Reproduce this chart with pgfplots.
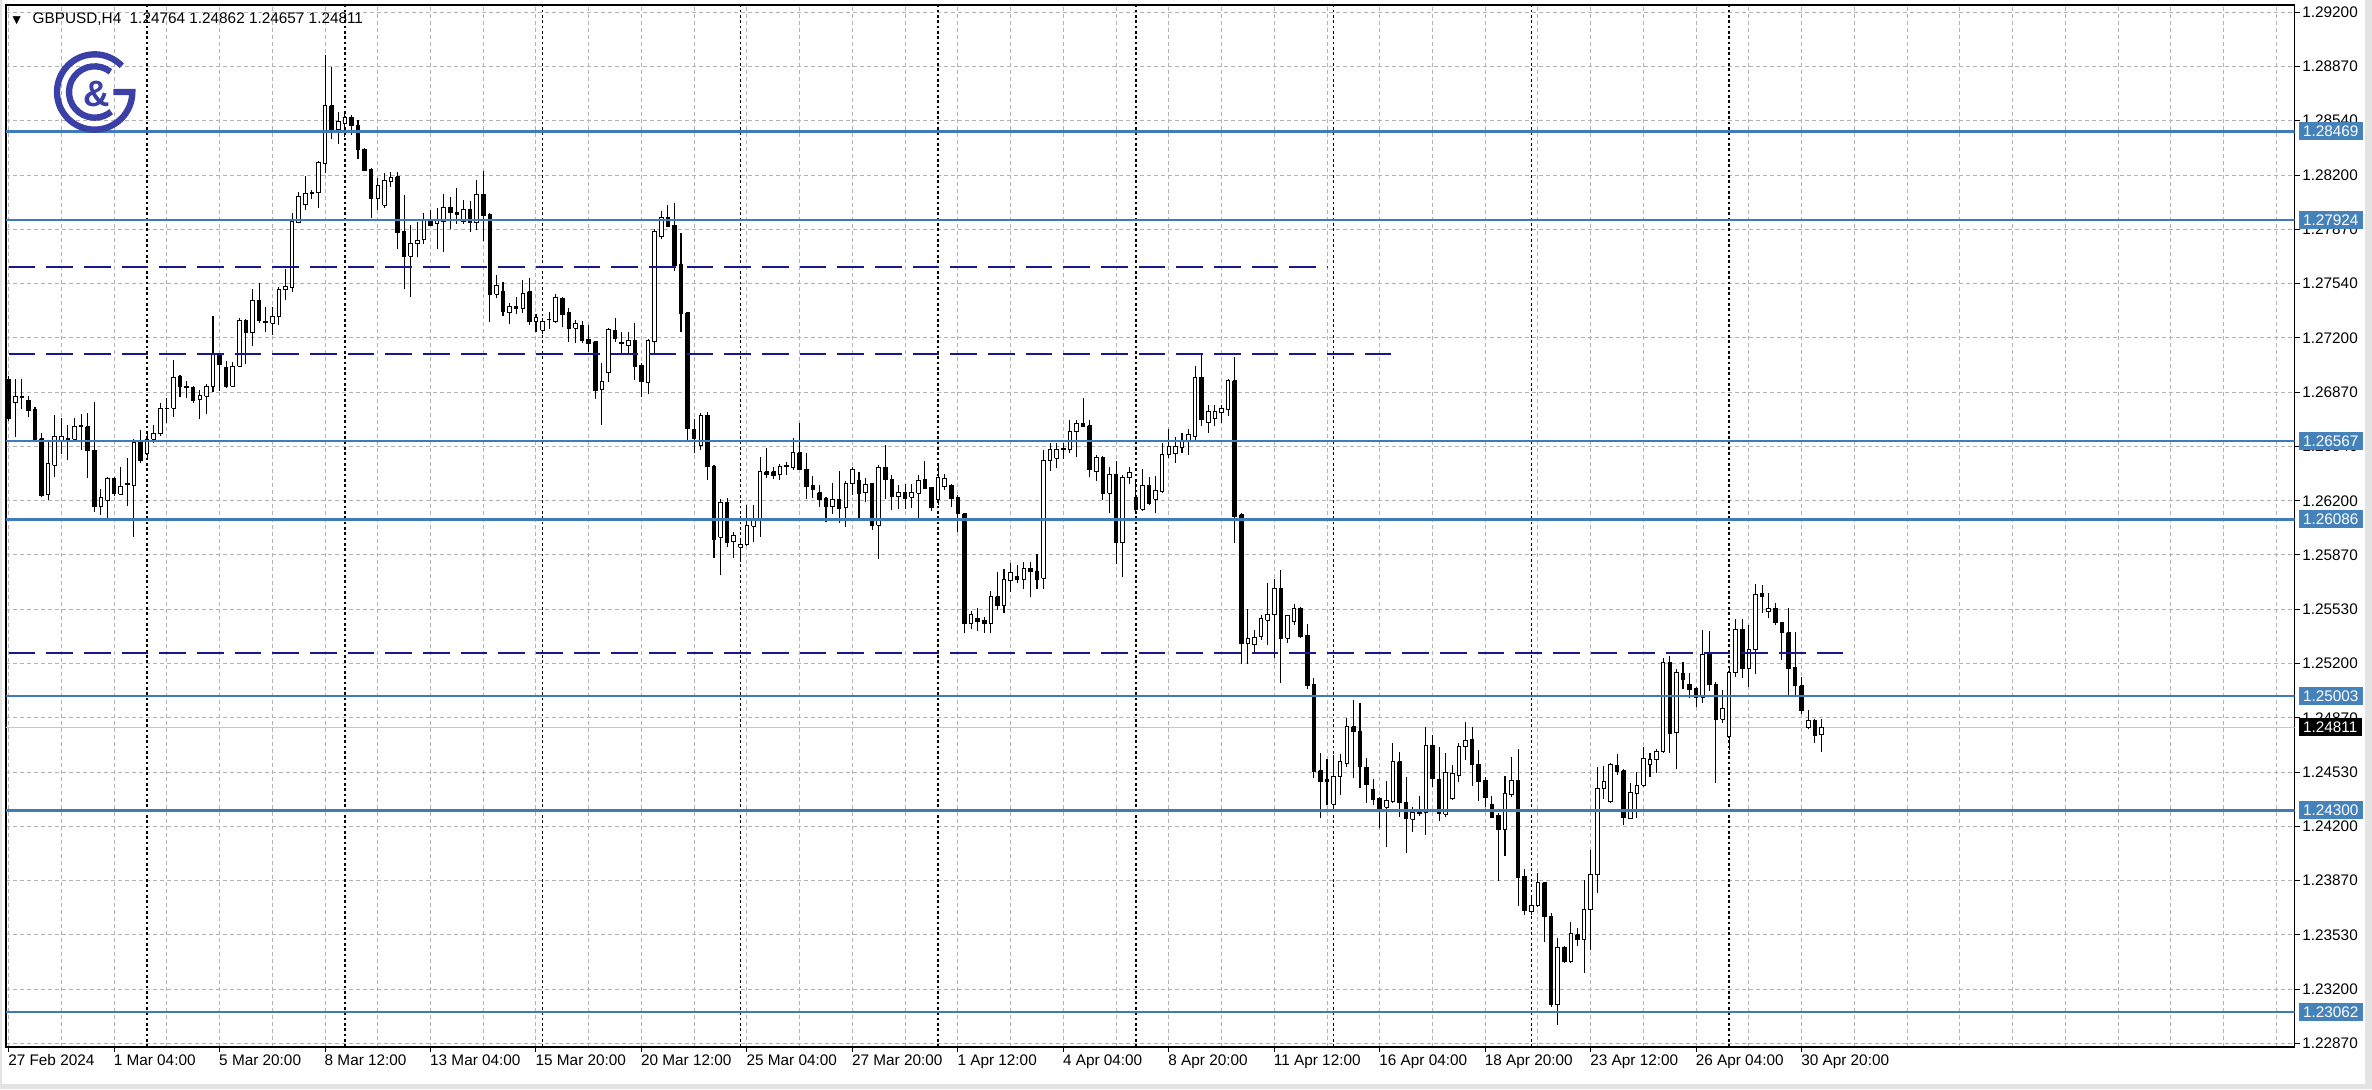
\documentclass[border=0pt]{standalone}
\usepackage{fontspec}
\setmainfont{Liberation Sans}
\newfontfamily\dejavu{DejaVu Sans}
\usepackage{pgfplots}
\pgfplotsset{compat=1.18}
\usepackage{pgfplotstable}
\definecolor{lineblue}{RGB}{62,123,184}
\definecolor{navydash}{RGB}{24,24,140}
\definecolor{boxblue}{RGB}{70,130,186}
\definecolor{logoblue}{RGB}{58,64,165}
\definecolor{gridgray}{RGB}{178,178,178}
\newcommand{\lblfont}{\fontsize{4.6}{5}\selectfont}

\pgfplotstableread{
i O H L C
0 1.26946 1.26966 1.26692 1.26706
1 1.26803 1.26946 1.26594 1.26843
2 1.26843 1.26946 1.26762 1.26835
3 1.26819 1.26843 1.26712 1.26753
4 1.26762 1.26778 1.26563 1.26573
5 1.26583 1.26614 1.26225 1.26236
6 1.26242 1.26569 1.26205 1.26430
7 1.26420 1.26727 1.26348 1.26594
8 1.26569 1.26706 1.26491 1.26594
9 1.26579 1.26665 1.26451 1.26584
10 1.26577 1.26706 1.26563 1.26655
11 1.26655 1.26733 1.26512 1.26665
12 1.26655 1.26737 1.26338 1.26512
13 1.26512 1.26809 1.26133 1.26164
14 1.26168 1.26271 1.26113 1.26221
15 1.26205 1.26348 1.26093 1.26336
16 1.26336 1.26348 1.26230 1.26246
17 1.26242 1.26406 1.26236 1.26291
18 1.26301 1.26461 1.26168 1.26305
19 1.26297 1.26577 1.25980 1.26559
20 1.26563 1.26635 1.26434 1.26446
21 1.26488 1.26624 1.26451 1.26577
22 1.26579 1.26665 1.26553 1.26614
23 1.26614 1.26798 1.26598 1.26768
24 1.26766 1.26829 1.26676 1.26770
25 1.26768 1.27064 1.26717 1.26958
26 1.26962 1.26972 1.26839 1.26901
27 1.26905 1.26938 1.26829 1.26897
28 1.26897 1.26905 1.26803 1.26819
29 1.26823 1.26880 1.26700 1.26847
30 1.26843 1.26917 1.26733 1.26905
31 1.26905 1.27334 1.26870 1.27099
32 1.27099 1.27109 1.26876 1.27040
33 1.27019 1.27060 1.26890 1.26905
34 1.26905 1.27054 1.26901 1.27028
35 1.27028 1.27320 1.27023 1.27306
36 1.27306 1.27314 1.27040 1.27232
37 1.27232 1.27500 1.27150 1.27433
38 1.27433 1.27535 1.27290 1.27310
39 1.27304 1.27392 1.27239 1.27296
40 1.27290 1.27392 1.27218 1.27335
41 1.27331 1.27515 1.27280 1.27499
42 1.27495 1.27621 1.27433 1.27515
43 1.27511 1.27969 1.27480 1.27914
44 1.27908 1.28098 1.27904 1.28071
45 1.28022 1.28194 1.27986 1.28084
46 1.28088 1.28108 1.28051 1.28096
47 1.28092 1.28288 1.27996 1.28276
48 1.28272 1.28937 1.28211 1.28626
49 1.28626 1.28865 1.28419 1.28481
50 1.28481 1.28589 1.28391 1.28528
51 1.28518 1.28595 1.28436 1.28554
52 1.28554 1.28569 1.28446 1.28507
53 1.28507 1.28538 1.28297 1.28354
54 1.28358 1.28364 1.28227 1.28231
55 1.28235 1.28241 1.27934 1.28057
56 1.28057 1.28180 1.27986 1.28133
57 1.28016 1.28215 1.27996 1.28166
58 1.28159 1.28221 1.28129 1.28186
59 1.28190 1.28221 1.27744 1.27846
60 1.27853 1.28078 1.27499 1.27703
61 1.27703 1.27893 1.27450 1.27781
62 1.27777 1.27914 1.27695 1.27801
63 1.27806 1.27969 1.27777 1.27924
64 1.27924 1.27986 1.27887 1.27893
65 1.27900 1.27996 1.27744 1.27924
66 1.27914 1.28084 1.27730 1.28002
67 1.28002 1.28067 1.27867 1.27969
68 1.27969 1.28119 1.27900 1.27961
69 1.27914 1.28047 1.27900 1.27990
70 1.27990 1.28043 1.27853 1.27908
71 1.27908 1.28170 1.27863 1.28078
72 1.28078 1.28227 1.27797 1.27949
73 1.27955 1.27965 1.27300 1.27470
74 1.27470 1.27587 1.27443 1.27525
75 1.27484 1.27546 1.27335 1.27362
76 1.27355 1.27417 1.27286 1.27392
77 1.27392 1.27450 1.27347 1.27384
78 1.27382 1.27556 1.27351 1.27474
79 1.27484 1.27566 1.27279 1.27300
80 1.27300 1.27347 1.27238 1.27324
81 1.27249 1.27320 1.27224 1.27300
82 1.27316 1.27361 1.27253 1.27312
83 1.27300 1.27470 1.27290 1.27449
84 1.27443 1.27453 1.27265 1.27347
85 1.27355 1.27382 1.27177 1.27259
86 1.27261 1.27310 1.27171 1.27286
87 1.27279 1.27306 1.27171 1.27187
88 1.27191 1.27279 1.27116 1.27167
89 1.27177 1.27183 1.26823 1.26880
90 1.26885 1.27044 1.26666 1.26932
91 1.26987 1.27259 1.26932 1.27253
92 1.27249 1.27320 1.27177 1.27198
93 1.27175 1.27238 1.27101 1.27167
94 1.27157 1.27238 1.27105 1.27183
95 1.27183 1.27294 1.26942 1.27028
96 1.27034 1.27048 1.26835 1.26932
97 1.26925 1.27191 1.26856 1.27183
98 1.27177 1.27867 1.27110 1.27852
99 1.27826 1.27981 1.27805 1.27940
100 1.27940 1.28016 1.27879 1.27887
101 1.27893 1.28030 1.27613 1.27642
102 1.27654 1.27842 1.27238 1.27351
103 1.27355 1.27361 1.26574 1.26645
104 1.26639 1.26700 1.26492 1.26584
105 1.26543 1.26737 1.26512 1.26727
106 1.26727 1.26747 1.26328 1.26410
107 1.26414 1.26420 1.25847 1.25964
108 1.25976 1.26209 1.25745 1.26189
109 1.26189 1.26215 1.25919 1.25943
110 1.25950 1.26011 1.25847 1.25990
111 1.25915 1.25970 1.25827 1.25935
112 1.25935 1.26175 1.25923 1.26052
113 1.26046 1.26175 1.25950 1.26078
114 1.26078 1.26471 1.25980 1.26379
115 1.26379 1.26522 1.26338 1.26365
116 1.26379 1.26410 1.26332 1.26353
117 1.26365 1.26426 1.26328 1.26414
118 1.26412 1.26441 1.26359 1.26417
119 1.26406 1.26584 1.26390 1.26496
120 1.26496 1.26680 1.26390 1.26394
121 1.26394 1.26496 1.26210 1.26288
122 1.26292 1.26353 1.26216 1.26271
123 1.26251 1.26298 1.26165 1.26210
124 1.26216 1.26222 1.26073 1.26165
125 1.26165 1.26312 1.26120 1.26210
126 1.26210 1.26384 1.26063 1.26155
127 1.26161 1.26325 1.26042 1.26304
128 1.26304 1.26406 1.26237 1.26394
129 1.26325 1.26380 1.26093 1.26247
130 1.26251 1.26339 1.26196 1.26302
131 1.26304 1.26308 1.26022 1.26052
132 1.26052 1.26421 1.25842 1.26406
133 1.26406 1.26543 1.26210 1.26329
134 1.26333 1.26359 1.26144 1.26226
135 1.26226 1.26298 1.26149 1.26251
136 1.26251 1.26304 1.26149 1.26216
137 1.26222 1.26304 1.26155 1.26251
138 1.26247 1.26359 1.26087 1.26325
139 1.26333 1.26447 1.26271 1.26277
140 1.26284 1.26288 1.26140 1.26161
141 1.26210 1.26415 1.26175 1.26345
142 1.26288 1.26365 1.26267 1.26339
143 1.26292 1.26304 1.26161 1.26216
144 1.26222 1.26237 1.26011 1.26120
145 1.26120 1.26128 1.25387 1.25449
146 1.25449 1.25527 1.25412 1.25500
147 1.25480 1.25541 1.25404 1.25459
148 1.25469 1.25490 1.25391 1.25449
149 1.25445 1.25649 1.25387 1.25612
150 1.25612 1.25766 1.25531 1.25555
151 1.25561 1.25780 1.25510 1.25715
152 1.25711 1.25817 1.25643 1.25760
153 1.25735 1.25807 1.25698 1.25719
154 1.25719 1.25827 1.25657 1.25786
155 1.25786 1.25827 1.25608 1.25766
156 1.25766 1.25874 1.25657 1.25719
157 1.25725 1.26513 1.25658 1.26451
158 1.26451 1.26558 1.26386 1.26513
159 1.26462 1.26558 1.26400 1.26517
160 1.26513 1.26554 1.26456 1.26523
161 1.26513 1.26697 1.26492 1.26625
162 1.26625 1.26697 1.26472 1.26677
163 1.26677 1.26830 1.26652 1.26656
164 1.26660 1.26697 1.26345 1.26390
165 1.26380 1.26482 1.26325 1.26468
166 1.26468 1.26476 1.26206 1.26247
167 1.26247 1.26406 1.26124 1.26365
168 1.26365 1.26447 1.25813 1.25944
169 1.25944 1.26359 1.25731 1.26345
170 1.26345 1.26406 1.26304 1.26374
171 1.26222 1.26333 1.26124 1.26149
172 1.26149 1.26394 1.26140 1.26292
173 1.26292 1.26345 1.26175 1.26185
174 1.26210 1.26353 1.26124 1.26263
175 1.26257 1.26558 1.26251 1.26482
176 1.26482 1.26640 1.26462 1.26537
177 1.26488 1.26595 1.26435 1.26537
178 1.26529 1.26615 1.26496 1.26564
179 1.26564 1.26640 1.26482 1.26605
180 1.26595 1.27028 1.26564 1.26959
181 1.26959 1.27102 1.26660 1.26697
182 1.26681 1.26789 1.26619 1.26748
183 1.26707 1.26789 1.26660 1.26748
184 1.26742 1.26789 1.26681 1.26769
185 1.26762 1.26947 1.26722 1.26938
186 1.26938 1.27086 1.25944 1.26104
187 1.26114 1.26124 1.25199 1.25326
188 1.25326 1.25535 1.25199 1.25357
189 1.25316 1.25408 1.25261 1.25363
190 1.25367 1.25500 1.25347 1.25480
191 1.25469 1.25694 1.25316 1.25500
192 1.25500 1.25719 1.25234 1.25664
193 1.25664 1.25776 1.25080 1.25357
194 1.25357 1.25500 1.25326 1.25494
195 1.25459 1.25568 1.25439 1.25541
196 1.25541 1.25551 1.25357 1.25367
197 1.25371 1.25444 1.25043 1.25070
198 1.25076 1.25111 1.24497 1.24538
199 1.24544 1.24654 1.24251 1.24476
200 1.24487 1.24613 1.24333 1.24478
201 1.24339 1.24640 1.24307 1.24511
202 1.24511 1.24646 1.24395 1.24599
203 1.24589 1.24865 1.24569 1.24814
204 1.24814 1.24978 1.24497 1.24783
205 1.24783 1.24957 1.24436 1.24569
206 1.24564 1.24620 1.24343 1.24462
207 1.24429 1.24491 1.24333 1.24368
208 1.24374 1.24380 1.24190 1.24313
209 1.24319 1.24483 1.24073 1.24360
210 1.24354 1.24716 1.24348 1.24599
211 1.24599 1.24661 1.24262 1.24348
212 1.24348 1.24503 1.24041 1.24251
213 1.24245 1.24319 1.24169 1.24286
214 1.24288 1.24388 1.24266 1.24284
215 1.24286 1.24814 1.24149 1.24701
216 1.24701 1.24763 1.24446 1.24497
217 1.24491 1.24691 1.24237 1.24282
218 1.24278 1.24654 1.24258 1.24532
219 1.24374 1.24579 1.24364 1.24528
220 1.24517 1.24716 1.24476 1.24695
221 1.24691 1.24845 1.24609 1.24732
222 1.24736 1.24814 1.24450 1.24579
223 1.24585 1.24671 1.24360 1.24476
224 1.24483 1.24507 1.24323 1.24380
225 1.24339 1.24388 1.24251 1.24257
226 1.24272 1.24282 1.23869 1.24184
227 1.24184 1.24511 1.24020 1.24401
228 1.24395 1.24630 1.24384 1.24483
229 1.24483 1.24675 1.23713 1.23889
230 1.23897 1.23938 1.23658 1.23685
231 1.23679 1.23767 1.23658 1.23719
232 1.23719 1.23914 1.23709 1.23857
233 1.23857 1.23863 1.23494 1.23652
234 1.23652 1.23668 1.23095 1.23106
235 1.23106 1.23520 1.22983 1.23460
236 1.23460 1.23468 1.23366 1.23372
237 1.23372 1.23618 1.23366 1.23542
238 1.23536 1.23577 1.23468 1.23507
239 1.23507 1.23873 1.23300 1.23689
240 1.23689 1.24057 1.23444 1.23904
241 1.23904 1.24569 1.23796 1.24436
242 1.24436 1.24573 1.24368 1.24477
243 1.24354 1.24593 1.24344 1.24585
244 1.24573 1.24647 1.24518 1.24538
245 1.24544 1.24553 1.24211 1.24258
246 1.24252 1.24467 1.24246 1.24409
247 1.24405 1.24538 1.24252 1.24456
248 1.24456 1.24692 1.24442 1.24620
249 1.24579 1.24655 1.24507 1.24610
250 1.24610 1.24675 1.24532 1.24661
251 1.24661 1.25234 1.24655 1.25207
252 1.25207 1.25248 1.24655 1.24770
253 1.24778 1.25166 1.24553 1.25146
254 1.25138 1.25213 1.25044 1.25105
255 1.25076 1.25146 1.24988 1.25044
256 1.25050 1.25056 1.24933 1.24994
257 1.24994 1.25408 1.24962 1.25260
258 1.25260 1.25404 1.25035 1.25076
259 1.25076 1.25091 1.24471 1.24859
260 1.24859 1.25039 1.24839 1.24927
261 1.24753 1.25183 1.24671 1.25146
262 1.25146 1.25473 1.25117 1.25412
263 1.25412 1.25473 1.25111 1.25172
264 1.25172 1.25438 1.25060 1.25289
265 1.25285 1.25690 1.25138 1.25623
266 1.25629 1.25684 1.25510 1.25612
267 1.25520 1.25637 1.25479 1.25541
268 1.25541 1.25575 1.25438 1.25453
269 1.25453 1.25459 1.25224 1.25391
270 1.25391 1.25541 1.25009 1.25172
271 1.25179 1.25397 1.25003 1.25064
272 1.25064 1.25117 1.24892 1.24913
273 1.24810 1.24917 1.24798 1.24851
274 1.24851 1.24859 1.24712 1.24763
275 1.24764 1.24862 1.24657 1.24811
}\candles

\begin{document}
\begin{tikzpicture}
\begin{axis}[
  at={(1.8pt,12.6pt)}, anchor=south west,
  scale only axis, width=686.6pt, height=312.6pt,
  xmin=-0.4, xmax=346.8, ymin=1.22848, ymax=1.29244,
  axis line style={black, line width=0.45pt},
  clip mode=individual,
  scaled y ticks=false, scaled x ticks=false,
  xtick={0,16,...,272},
  xticklabels={27 Feb 2024,1 Mar 04:00,5 Mar 20:00,8 Mar 12:00,13 Mar 04:00,15 Mar 20:00,20 Mar 12:00,25 Mar 04:00,27 Mar 20:00,1 Apr 12:00,4 Apr 04:00,8 Apr 20:00,11 Apr 12:00,16 Apr 04:00,18 Apr 20:00,23 Apr 12:00,26 Apr 04:00,30 Apr 20:00},
  minor xtick={8,24,...,344,288,304,320,336},
  xmajorgrids, xminorgrids, ymajorgrids,
  ytick={1.22870,1.23203,1.23536,1.23869,1.24202,1.24535,1.24868,1.25202,1.25535,1.25868,1.26201,1.26534,1.26868,1.27201,1.27534,1.27867,1.28200,1.28534,1.28867,1.29200},
  yticklabels={1.22870,1.23200,1.23530,1.23870,1.24200,1.24530,1.24870,1.25200,1.25530,1.25870,1.26200,1.26540,1.26870,1.27200,1.27540,1.27870,1.28200,1.28540,1.28870,1.29200},
  ytick pos=right, yticklabel pos=right, xtick pos=bottom,
  tick align=outside, major tick length=1.5pt, minor tick length=0pt,
  tick style={black, line width=0.3pt},
  grid style={gridgray, line width=0.3pt, dash pattern=on 1.2pt off 0.9pt},
  major grid style={gridgray, line width=0.3pt, dash pattern=on 1.2pt off 0.9pt},
  minor grid style={gridgray, line width=0.3pt, dash pattern=on 1.2pt off 0.9pt},
  xticklabel style={font=\lblfont, anchor=north west, inner sep=0pt, xshift=-0.3pt, yshift=-0.6pt},
  yticklabel style={font=\lblfont, anchor=west, inner sep=0pt, xshift=0.6pt},
]
% week separators
\pgfplotsinvokeforeach{21,51,81,111,141,171,201,231,261}{
  \addplot[forget plot, black, line width=0.45pt, dash pattern=on 0.8pt off 0.8pt] coordinates {(#1,1.22848) (#1,1.29244)};
}
% current price line
\addplot[forget plot, gray!45, line width=0.3pt] coordinates {(-0.4,1.24811) (346.8,1.24811)};
% candles: wick and body from the table rows
\pgfplotsinvokeforeach{0,...,275}{%
  \pgfplotstablegetelem{#1}{O}\of\candles\let\vO\pgfplotsretval
  \pgfplotstablegetelem{#1}{H}\of\candles\let\vH\pgfplotsretval
  \pgfplotstablegetelem{#1}{L}\of\candles\let\vL\pgfplotsretval
  \pgfplotstablegetelem{#1}{C}\of\candles\let\vC\pgfplotsretval
  \pgfmathsetmacro\xl{#1-0.27}\pgfmathsetmacro\xr{#1+0.27}%
  \ifdim\vC pt>\vO pt \def\fc{white}\else\def\fc{black}\fi
  \edef\next{%
    \noexpand\addplot[forget plot, black, line width=0.32pt] coordinates {(#1,\vL) (#1,\vH)};%
    \noexpand\addplot[forget plot, draw=black, line width=0.3pt, fill=\fc] coordinates {(\xl,\vO) (\xr,\vO) (\xr,\vC) (\xl,\vC) (\xl,\vO)};%
  }%
  \next
}
% support/resistance lines
\pgfplotsinvokeforeach{1.28469,1.27924,1.26567,1.26086,1.25003,1.24300,1.23062}{
  \addplot[forget plot, lineblue, line width=0.8pt] coordinates {(-0.4,#1) (346.8,#1)};
}
\addplot[forget plot, navydash, line width=0.55pt, dash pattern=on 8pt off 3.3pt] coordinates {(0,1.27636) (200.2,1.27636)};
\addplot[forget plot, navydash, line width=0.55pt, dash pattern=on 8pt off 3.3pt] coordinates {(0,1.27100) (211,1.27100)};
\addplot[forget plot, navydash, line width=0.55pt, dash pattern=on 8pt off 3.3pt] coordinates {(0,1.25269) (279.1,1.25269)};
\coordinate (b1) at (axis cs:346.8,1.28469);
\coordinate (b2) at (axis cs:346.8,1.27924);
\coordinate (b3) at (axis cs:346.8,1.26567);
\coordinate (b4) at (axis cs:346.8,1.26086);
\coordinate (b5) at (axis cs:346.8,1.25003);
\coordinate (b6) at (axis cs:346.8,1.24300);
\coordinate (b7) at (axis cs:346.8,1.23062);
\coordinate (bc) at (axis cs:346.8,1.24811);
\end{axis}
% price boxes
\tikzset{pbox/.style={anchor=west, xshift=1pt, inner xsep=1.3pt, inner ysep=0pt, minimum height=5.4pt, text=white, font=\lblfont}}
\foreach \c/\t in {b1/1.28469,b2/1.27924,b3/1.26567,b4/1.26086,b5/1.25003,b6/1.24300,b7/1.23062}{
  \node[pbox, fill=boxblue] at (\c) {\t};
}
\node[pbox, fill=black] at (bc) {1.24811};
% header
\node[anchor=base, inner sep=0pt, font=\dejavu\fontsize{3.2}{4}\selectfont] at (5pt,319.6pt) {▼};
\node[anchor=base west, inner sep=0pt, font=\lblfont] at (9.6pt,319.5pt) {GBPUSD,H4\hspace{0.55em}1.24764 1.24862 1.24657 1.24811};
% logo
\begin{scope}[shift={(28.4pt,299.1pt)}]
  \draw[logoblue, line width=1.9pt] (44:11.3pt) arc[start angle=44, end angle=360, radius=11.3pt] -- (5.6pt,0pt);
  \draw[logoblue, line width=1.9pt] (52:7.7pt) arc[start angle=52, end angle=310, radius=7.7pt];
  \node[logoblue, inner sep=0pt, font=\bfseries\fontsize{11}{12}\selectfont] at (0.6pt,-0.6pt) {\&};
\end{scope}
% window border
\fill[gray!22] (709.4pt,0pt) rectangle (711.6pt,326.7pt);
\fill[gray!22] (0pt,0pt) rectangle (711.6pt,1.6pt);
\fill[gray!22] (0pt,0pt) rectangle (0.6pt,326.7pt);
\pgfresetboundingbox
\path (0pt,0pt) rectangle (711.6pt,326.7pt);
\end{tikzpicture}
\end{document}
